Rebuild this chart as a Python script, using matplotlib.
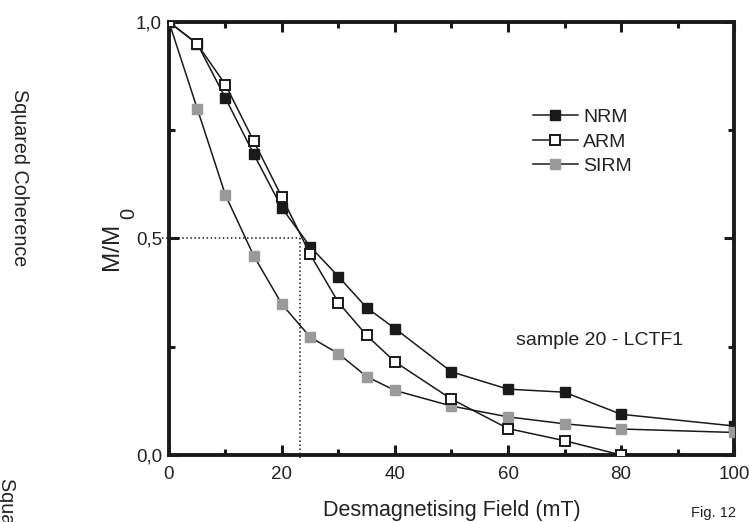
import matplotlib
matplotlib.use('Agg')
import matplotlib.pyplot as plt
from matplotlib.ticker import MultipleLocator, FuncFormatter

plt.rcParams['font.family'] = ['Liberation Sans', 'DejaVu Sans']

# demagnetising field steps (mT)
field = [0, 5, 10, 15, 20, 25, 30, 35, 40, 50, 60, 70, 80, 100]
field_arm = [0, 5, 10, 15, 20, 25, 30, 35, 40, 50, 60, 70, 80]

nrm = [1.0, 0.95, 0.824, 0.695, 0.570, 0.481, 0.412, 0.340, 0.292, 0.192, 0.152, 0.145, 0.094, 0.067]
arm = [1.0, 0.949, 0.855, 0.725, 0.595, 0.463, 0.352, 0.276, 0.215, 0.129, 0.061, 0.033, 0.0]
sirm = [1.0, 0.80, 0.60, 0.46, 0.348, 0.272, 0.234, 0.181, 0.149, 0.113, 0.088, 0.072, 0.060, 0.052]

half_field = 23.2

txt = '#222222'
fig = plt.figure(figsize=(7.49, 5.22), dpi=100)
ax = fig.add_axes([0.2256, 0.1284, 0.7544, 0.8295])

ax.plot(field, nrm, '-s', color='#1a1a1a', lw=1.1, ms=7, mfc='#1a1a1a', mec='#1a1a1a', label='NRM', zorder=3)
ax.plot(field_arm, arm, '-s', color='#1a1a1a', lw=1.1, ms=7, mfc='white', mec='#1a1a1a', mew=1.4, label='ARM', zorder=4)
ax.plot(field, sirm, '-s', color='#1a1a1a', lw=1.1, ms=7, mfc='#9a9a9a', mec='#9a9a9a', label='SIRM', zorder=3)

# dotted guide at half intensity
ax.plot([-1.2, half_field], [0.5, 0.5], ls=':', color='#1a1a1a', lw=1.1, clip_on=False)
ax.plot([half_field, half_field], [0.5, -0.008], ls=':', color='#1a1a1a', lw=1.1, clip_on=False)

ax.set_xlim(0, 100)
ax.set_ylim(0, 1)
ax.xaxis.set_major_locator(MultipleLocator(20))
ax.xaxis.set_minor_locator(MultipleLocator(10))
ax.yaxis.set_major_locator(MultipleLocator(0.5))
ax.yaxis.set_minor_locator(MultipleLocator(0.25))
ax.yaxis.set_major_formatter(FuncFormatter(lambda v, p: ('%.1f' % v).replace('.', ',')))

ax.tick_params(which='both', direction='in', top=True, right=True, width=2.2,
               color='#1a1a1a', labelsize=13.5, labelcolor=txt)
ax.tick_params(which='major', length=7)
ax.tick_params(which='minor', length=4)
ax.tick_params(axis='x', which='major', pad=8)
ax.tick_params(axis='y', which='major', pad=5)
for s in ax.spines.values():
    s.set_linewidth(2.8)
    s.set_color('#1a1a1a')

ax.set_xlabel('Desmagnetising Field (mT)', fontsize=15.5, color=txt, labelpad=12)

# y label with a near full-size subscript
fig.text(0.1495, 0.5287, 'M/M', rotation=90, fontsize=17.5, color=txt, ha='center', va='center')
fig.text(0.1715, 0.592, '0', rotation=90, fontsize=14.5, color=txt, ha='center', va='center')

ax.text(0.614, 0.2635, 'sample 20 - LCTF1', transform=ax.transAxes, fontsize=14,
        color=txt, va='center', ha='left')

leg = ax.legend(loc='upper left', bbox_to_anchor=(0.644, 0.80), frameon=False,
                fontsize=14, handlelength=2.3, handletextpad=0.3, labelspacing=0.35,
                borderpad=0, borderaxespad=0)
for t in leg.get_texts():
    t.set_color(txt)

fig.text(0.026, 0.66, 'Squared Coherence', rotation=270, fontsize=14.2, color=txt,
         ha='center', va='center')
fig.text(0.009, 0.085, 'Squared Coherence', rotation=270, fontsize=14.2, color=txt,
         ha='center', va='top')
fig.text(0.922, 0.0096, 'Fig. 12', fontsize=10.5, color=txt, ha='left', va='baseline')

fig.savefig('out.png', dpi=100)
